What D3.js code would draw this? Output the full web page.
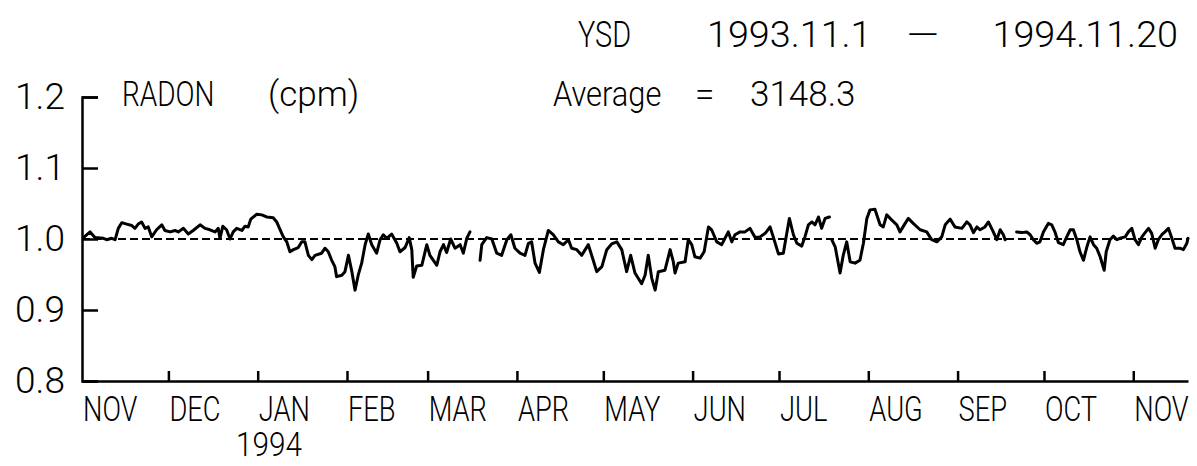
<!DOCTYPE html>
<html><head><meta charset="utf-8">
<script src="https://cdn.jsdelivr.net/npm/d3@7"></script>
<style>
html,body{margin:0;padding:0;background:#fff;}
svg{display:block;}
text{font-family:Roboto,"Liberation Sans",sans-serif;font-weight:300;fill:#000;}
</style></head><body>
<svg id="chart" width="1197" height="466"></svg>
<script>
// ---- data ----
const startDate = "1993-11-01";
const endDate = "1994-11-20";
const station = "YSD";
const periodStart = "1993.11.1";
const periodEnd = "1994.11.20";
const seriesName = "RADON";
const unitLabel = "(cpm)";
const average = 3148.3;
const baselineValue = 1.0;
const yearLabel = "1994";
const yTicks = [0.8, 0.9, 1.0, 1.1, 1.2];
const monthLabels = ["NOV","DEC","JAN","FEB","MAR","APR","MAY","JUN","JUL","AUG","SEP","OCT","NOV"];
const monthStarts = ["1993-11-01","1993-12-01","1994-01-01","1994-02-01","1994-03-01","1994-04-01","1994-05-01","1994-06-01","1994-07-01","1994-08-01","1994-09-01","1994-10-01","1994-11-01"];

// day offsets from startDate (null ratio = gap in record)
const dayOffsets = [
 0.5,2.8,4.5,7.4,8.6,10.3,11.5,12.6,13.8,15.5,
 17.3,18.4,19.5,20.7,21.9,23.0,24.2,25.9,27.7,28.8,
 30.6,32.3,33.4,35.2,36.9,38.6,41.0,42.7,44.4,46.2,
 47.3,47.9,48.9,50.2,51.4,52.5,53.7,55.5,56.6,57.7,
 58.6,60.7,62.4,64.1,66.4,67.6,68.8,69.9,71.1,72.2,
 73.4,75.1,76.3,77.4,78.6,79.8,80.9,83.2,84.4,85.5,
 86.7,87.8,88.4,90.2,91.3,92.5,93.6,94.8,95.9,97.1,
 98.3,99.4,100.6,102.3,103.5,104.6,105.8,107.5,109.3,110.4,
 112.2,113.6,114.5,115.0,116.2,118.0,119.7,120.8,123.2,124.3,
 125.5,126.6,128.0,129.5,131.3,132.4,133.6,134.7,
 136.5,
 138.2,138.8,140.5,142.3,144.0,145.7,147.5,148.9,150.3,152.1,
 153.8,155.0,156.1,157.3,158.8,160.2,161.9,163.6,165.4,167.1,
 168.9,170.0,171.8,173.5,174.7,175.8,177.5,178.7,180.5,182.2,
 183.9,185.7,187.4,189.1,190.5,192.0,194.3,195.5,196.6,197.8,
 199.0,200.1,202.4,204.2,205.3,205.9,207.0,209.4,210.5,211.7,
 212.8,214.6,216.0,217.5,218.6,220.4,222.1,224.4,225.6,226.7,
 228.5,230.2,231.9,233.7,235.4,237.2,238.9,240.0,241.8,243.5,
 244.7,245.6,247.0,248.2,249.9,251.0,252.2,253.4,254.5,255.7,
 256.8,258.0,259.5,
 259.9,
 260.3,261.5,263.2,264.3,265.5,266.7,268.4,270.1,271.3,272.5,
 273.6,275.3,277.1,278.2,279.4,281.1,282.9,284.0,285.8,286.9,
 288.6,291.0,293.3,295.0,296.8,298.5,299.7,301.4,303.1,305.5,
 307.2,308.3,309.5,310.7,311.8,313.5,314.7,316.4,317.6,318.8,
 319.9,320.5,
 322.5,
 324.5,326.3,328.0,329.2,330.3,331.5,332.6,333.8,335.5,336.7,
 337.8,339.0,340.7,341.9,343.1,344.2,345.4,346.5,347.7,348.9,
 350.0,351.2,352.3,353.5,354.9,355.6,356.9,358.1,359.3,360.4,
 362.2,363.3,364.5,365.6,366.8,368.0,369.1,370.3,371.4,372.6,
 373.7,374.9,376.0,377.2,378.4,379.5,381.2,382.4,383.6,384.0
];
// radon count rate relative to the average (3148.3 cpm)
const ratios = [
 1.002,1.010,1.002,1.001,0.999,1.001,0.999,1.015,1.023,1.021,
 1.019,1.015,1.021,1.024,1.015,1.017,1.003,1.013,1.020,1.012,
 1.010,1.012,1.010,1.015,1.007,1.012,1.020,1.015,1.013,1.010,
 1.015,1.001,1.018,1.013,1.000,1.010,1.015,1.012,1.018,1.017,
 1.028,1.035,1.034,1.031,1.030,1.024,1.013,1.003,0.996,0.982,
 0.985,0.988,0.996,0.996,0.977,0.971,0.977,0.980,0.987,0.982,
 0.970,0.961,0.947,0.949,0.954,0.977,0.956,0.928,0.949,0.966,
 0.992,1.007,0.992,0.980,0.999,1.006,1.001,1.007,0.994,0.982,
 0.988,1.002,0.985,0.946,0.962,0.963,0.992,0.977,0.963,0.982,
 0.992,0.981,1.000,0.987,0.992,0.980,1.001,1.010,
 null,
 0.970,0.992,1.002,1.000,0.980,0.977,0.999,1.006,0.987,0.980,
 0.977,0.994,0.996,0.966,0.953,0.985,1.012,1.006,0.996,0.992,
 0.999,0.987,0.985,0.977,0.985,0.992,0.970,0.954,0.961,0.985,
 0.993,0.996,0.985,0.954,0.977,0.952,0.937,0.949,0.977,0.945,
 0.928,0.954,0.956,0.985,0.968,0.952,0.966,0.968,0.999,0.992,
 0.975,0.973,0.982,1.017,1.013,0.996,0.992,1.010,0.996,1.006,
 1.010,1.010,1.015,1.002,1.003,1.008,1.017,1.003,0.979,0.980,
 1.008,1.029,1.006,0.994,0.990,1.003,1.020,1.024,1.020,1.031,
 1.015,1.029,1.031,
 null,
 0.999,0.989,0.952,0.977,0.996,0.968,0.966,0.970,0.994,1.029,
 1.041,1.042,1.020,1.017,1.034,1.027,1.020,1.010,1.022,1.029,
 1.022,1.013,1.010,0.999,0.996,1.003,1.020,1.028,1.017,1.015,
 1.024,1.020,1.009,1.017,1.013,1.017,1.024,1.010,0.999,1.013,
 1.006,0.999,
 null,
 1.010,1.009,1.010,1.006,0.999,0.994,0.996,1.010,1.022,1.020,
 1.010,0.995,0.992,1.003,1.013,1.013,0.999,0.982,0.970,0.989,
 1.003,0.992,0.987,0.975,0.956,0.982,0.999,1.004,0.999,1.001,
 1.003,1.010,1.015,0.999,0.992,1.003,1.009,1.015,1.008,0.987,
 0.999,1.006,1.010,1.015,1.001,0.987,0.987,0.985,0.994,1.001
];

// ---- chart ----
const parse = d3.utcParse("%Y-%m-%d");
const t0 = parse(startDate), t1 = parse(endDate);
const DAY = 86400000;
const data = dayOffsets.map((d, i) => ({date: new Date(t0.getTime() + d * DAY), v: ratios[i]}));

const svg = d3.select("#chart");
const x = d3.scaleUtc().domain([t0, t1]).range([82, 1188]);
const y = d3.scaleLinear().domain([0.8, 1.2]).range([381, 97]);

function addText(str, tx, ty, size, sx, anchor) {
  svg.append("text")
    .attr("transform", `translate(${tx},${ty}) scale(${sx},1)`)
    .attr("font-size", size)
    .attr("text-anchor", anchor || "start")
    .text(str);
}

// baseline (average) dashed line
svg.append("line")
  .attr("x1", x(t0)).attr("x2", x(t1))
  .attr("y1", y(baselineValue)).attr("y2", y(baselineValue))
  .attr("stroke", "#000").attr("stroke-width", 2)
  .attr("stroke-dasharray", "8,4");

// x axis
const xAxis = d3.axisBottom(x)
  .tickValues(monthStarts.slice(1).map(parse))
  .tickSize(-10).tickSizeOuter(0).tickFormat("");
const gx = svg.append("g").attr("transform", `translate(0,${y(0.8)})`).call(xAxis);
gx.select(".domain").attr("stroke", "#000").attr("stroke-width", 2.5);
gx.selectAll(".tick line").attr("stroke", "#000").attr("stroke-width", 2.5);

// y axis
const yAxis = d3.axisLeft(y).tickValues(yTicks).tickSize(-16).tickSizeOuter(-16)
  .tickPadding(17).tickFormat(d3.format(".1f"));
const gy = svg.append("g").attr("transform", `translate(${x(t0)},0)`).call(yAxis);
gy.select(".domain").attr("stroke", "#000").attr("stroke-width", 2.5).attr("fill", "none");
gy.selectAll(".tick line").attr("stroke", "#000").attr("stroke-width", 2.5);
gy.selectAll(".tick text").attr("font-size", 37).attr("font-family", "Roboto, sans-serif")
  .attr("font-weight", 300).attr("fill", "#000");

// radon series
const line = d3.line()
  .defined(d => d.v !== null)
  .x(d => x(d.date)).y(d => y(d.v));
svg.append("path").datum(data)
  .attr("d", line)
  .attr("fill", "none").attr("stroke", "#000")
  .attr("stroke-width", 3).attr("stroke-linejoin", "round").attr("stroke-linecap", "round");

// month labels, each starting at its month tick
monthLabels.forEach((m, i) => {
  addText(m, x(parse(monthStarts[i])) + 1, 421, 35, 0.78);
});
addText(yearLabel, 236, 456, 33, 0.9);

// titles
addText(station, 578, 47, 37, 0.78);
addText(periodStart, 707, 47, 37, 1.02);
addText("\u2013", 905, 47, 37, 1.5);
addText(periodEnd, 1178, 47, 37, 1.02, "end");
addText(seriesName, 122, 106, 35, 0.8);
addText(unitLabel, 268, 106, 35, 1);
addText("Average", 553, 106, 35, 0.88);
addText("=", 695, 106, 35, 1);
addText(String(average), 750, 106, 35, 1);
</script>
</body></html>
